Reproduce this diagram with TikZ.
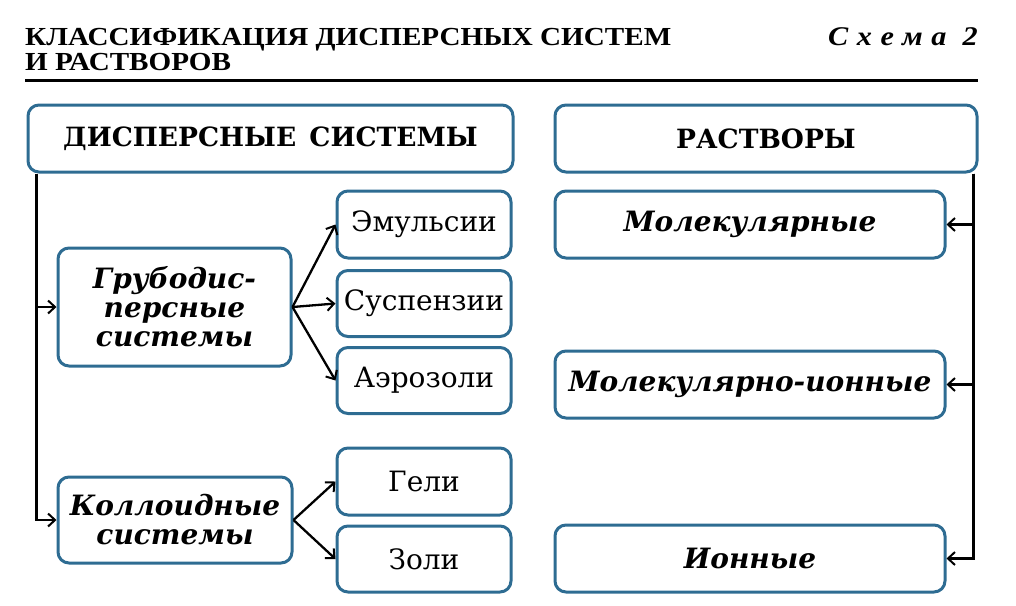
\documentclass[tikz,border=0pt]{standalone}
\usepackage{fontspec}
\setmainfont{DejaVu Serif}
\newfontfamily\titlefont{Liberation Serif}[FakeStretch=1.12]
\usetikzlibrary{arrows.meta}
\definecolor{boxblue}{HTML}{2E6C92}
\tikzset{
  box/.style={draw=boxblue, line width=3pt, rounded corners=11pt, fill=white, inner sep=0pt, align=center},
  arr/.style={draw=black, line width=2.3pt, -{Straight Barb[length=7pt,width=13pt,line width=2pt]}},
  plainlab/.style={font=\fontsize{28}{29}\selectfont},
  boldlab/.style={font=\bfseries\fontsize{26.5}{29}\selectfont},
  itlab/.style={font=\bfseries\itshape\fontsize{28}{29}\selectfont},
  titl/.style={anchor=base west, inner sep=0pt, font=\titlefont\bfseries\fontsize{26}{26}\selectfont},
}
\begin{document}
\begin{tikzpicture}[x=1pt,y=-1pt]
\useasboundingbox (0,0) rectangle (1016,605);
% header
\node[titl] (t1) at (25,45) {КЛАССИФИКАЦИЯ ДИСПЕРСНЫХ СИСТЕМ};
\node[titl] (t2) at (25,70) {И РАСТВОРОВ};
\node[anchor=base east, inner sep=0pt, font=\titlefont\bfseries\itshape\fontsize{27}{27}\selectfont\addfontfeatures{LetterSpace=32}] (sch) at (978,45) {Схема 2};
\coordinate (r1) at (25,80);
\coordinate (r2) at (978,80);
\draw[line width=3pt] (r1) -- (r2);
% boxes
\node[box, boldlab, minimum width=485, minimum height=67] (ds) at (270.5,138.5) {ДИСПЕРСНЫЕ\hspace{0.5em}СИСТЕМЫ};
\node[box, boldlab, minimum width=422, minimum height=67] (rs) at (766,138.5) {РАСТВОРЫ};
\node[box, itlab, minimum width=233, minimum height=118] (gr) at (174.5,307) {Грубодис-\\персные\\системы};
\node[box, itlab, minimum width=234, minimum height=86] (kol) at (175,520) {Коллоидные\\системы};
\node[box, plainlab, minimum width=174, minimum height=67] (emu) at (424,224.5) {Эмульсии};
\node[box, plainlab, minimum width=174, minimum height=66] (sus) at (424,303.5) {Суспензии};
\node[box, plainlab, minimum width=174, minimum height=66] (aer) at (424,380.5) {Аэрозоли};
\node[box, plainlab, minimum width=174, minimum height=67] (gel) at (424,481.5) {Гели};
\node[box, plainlab, minimum width=174, minimum height=66] (zol) at (424,559) {Золи};
\node[box, itlab, minimum width=390, minimum height=67] (mol) at (750,224.5) {Молекулярные};
\node[box, itlab, minimum width=390, minimum height=67] (mi) at (750,384.5) {Молекулярно-ионные};
\node[box, itlab, minimum width=390, minimum height=67] (ion) at (750,558.5) {Ионные};
% connectors
\draw[arr] ([xshift=10pt]ds.south west) |- (gr.west);
\draw[arr] ([xshift=10pt]ds.south west) |- (kol.west);
\draw[arr] ([xshift=-5pt]rs.south east) |- (mol.east);
\draw[arr] ([xshift=-5pt]rs.south east) |- (mi.east);
\draw[arr] ([xshift=-5pt]rs.south east) |- (ion.east);
\draw[arr] (gr.east) -- (emu.west);
\draw[arr] (gr.east) -- (sus.west);
\draw[arr] (gr.east) -- (aer.west);
\draw[arr] (kol.east) -- (gel.west);
\draw[arr] (kol.east) -- (zol.west);
\end{tikzpicture}
\end{document}
